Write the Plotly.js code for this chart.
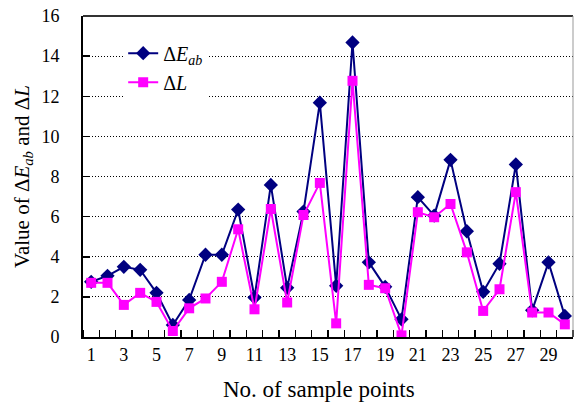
<!DOCTYPE html>
<html>
<head>
<meta charset="utf-8">
<script src="https://cdn.plot.ly/plotly-3.0.1.min.js"></script>
<style>html,body{margin:0;padding:0;background:#fff}#chart{width:574px;height:405px}</style>
</head>
<body>
<div id="chart"></div>
<script>
const samples = [1,2,3,4,5,6,7,8,9,10,11,12,13,14,15,16,17,18,19,20,21,22,23,24,25,26,27,28,29,30];
const deltaEab = [2.75,3.05,3.5,3.35,2.2,0.6,1.85,4.1,4.1,6.35,1.97,7.58,2.45,6.25,11.68,2.55,14.68,3.72,2.5,0.88,6.97,6.05,8.83,5.27,2.25,3.65,8.6,1.33,3.72,1.05];
const deltaL = [2.7,2.7,1.6,2.2,1.75,0.3,1.43,1.92,2.75,5.37,1.38,6.38,1.72,6.08,7.68,0.68,12.77,2.6,2.43,0.08,6.22,5.97,6.63,4.22,1.3,2.38,7.22,1.22,1.22,0.63];
const xTickVals = [1,3,5,7,9,11,13,15,17,19,21,23,25,27,29];
const xTickText = ["1","3","5","7","9","11","13","15","17","19","21","23","25","27","29"];
const yTickVals = [0,2,4,6,8,10,12,14,16];

const serif = "Liberation Serif";

const traces = [
  {x: samples, y: deltaEab, type: 'scatter', mode: 'lines+markers',
   name: 'Δ<i>E<sub>ab</sub></i>', legendgroup: 'a',
   line: {color: '#000080', width: 2},
   marker: {symbol: 'diamond', size: 11, color: '#000080'}},
  {x: samples, y: deltaL, type: 'scatter', mode: 'lines+markers',
   name: 'Δ<i>L</i>', legendgroup: 'b',
   line: {color: '#FF00FF', width: 2},
   marker: {symbol: 'square', size: 10, color: '#FF00FF'}}
];

const layout = {
  width: 574, height: 405,
  margin: {l: 83, r: 1, t: 16, b: 68},
  paper_bgcolor: '#fff', plot_bgcolor: '#fff',
  font: {family: serif, color: '#000', size: 18},
  showlegend: true,
  legend: {x: 0.082, y: 0.945, xanchor: 'left', yanchor: 'top', bgcolor: '#fff',
           font: {family: serif, size: 20, color: '#000'}, tracegroupgap: 0},
  xaxis: {
    range: [0.5, 30.5], tickmode: 'array', tickvals: xTickVals, ticktext: xTickText,
    ticks: '', showgrid: false, zeroline: false,
    showline: true, linecolor: '#000', linewidth: 2,
    tickfont: {family: serif, size: 18, color: '#000'},
    minor: {tickmode: 'linear', tick0: 0.5, dtick: 1, ticks: 'inside', ticklen: 7, tickcolor: '#000', tickwidth: 1.5, showgrid: false}
  },
  yaxis: {
    range: [0, 16], tickmode: 'array', tickvals: yTickVals,
    ticks: 'inside', ticklen: 7, tickcolor: '#000', tickwidth: 1.5,
    showgrid: true, gridcolor: '#000', griddash: '1px,2px', gridwidth: 1,
    zeroline: false, showline: true, linecolor: '#000', linewidth: 2,
    ticklabelstandoff: 18,
    tickfont: {family: serif, size: 18, color: '#000'},
    title: {text: 'Value of Δ<i>E<sub>ab</sub></i> and Δ<i>L</i>', font: {family: serif, size: 21, color: '#000'}, standoff: 6}
  },
  shapes: [
    {type: 'line', xref: 'paper', yref: 'paper', x0: 0, x1: 1, y0: 1, y1: 1, line: {color: '#333', width: 2}},
    {type: 'line', xref: 'paper', yref: 'paper', x0: 1, x1: 1, y0: 0, y1: 1, line: {color: '#999', width: 1}}
  ],
  annotations: [
    {text: 'No. of sample points', xref: 'paper', yref: 'paper', x: 0.4816, y: -0.165,
     xanchor: 'center', yanchor: 'middle', showarrow: false, font: {family: serif, size: 23, color: '#000'}}
  ]
};

Plotly.newPlot('chart', traces, layout, {displayModeBar: false, staticPlot: true});
</script>
</body>
</html>
